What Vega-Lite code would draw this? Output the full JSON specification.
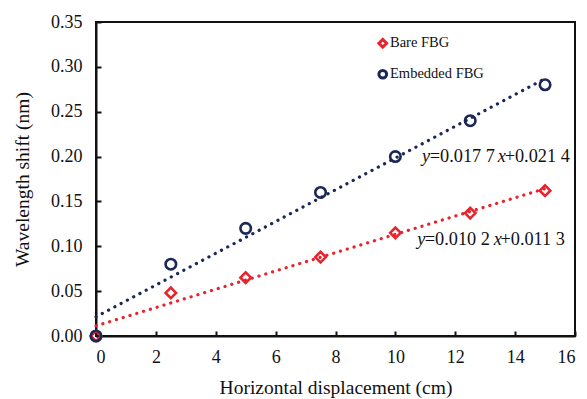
{
  "$schema": "https://vega.github.io/schema/vega-lite/v6.json",
  "width": 479,
  "height": 314,
  "autosize": {"type": "none"},
  "padding": {"left": 96, "top": 22, "right": 12, "bottom": 63},
  "background": "white",
  "config": {
    "font": "Liberation Serif",
    "view": {"stroke": "#111", "strokeWidth": 2},
    "axis": {
      "domainColor": "#111",
      "domainWidth": 2,
      "tickColor": "#111",
      "tickWidth": 2,
      "tickSize": -5,
      "grid": false,
      "labelFont": "Liberation Serif",
      "labelFontSize": 18,
      "labelColor": "#111",
      "titleFont": "Liberation Serif",
      "titleFontSize": 19.5,
      "titleFontWeight": "normal",
      "titleColor": "#111"
    },
    "legend": {
      "labelFont": "Liberation Serif",
      "labelFontSize": 14.5,
      "labelColor": "#111"
    }
  },
  "datasets": {
    "points": [
      {"series": "Bare FBG", "x": 0, "y": 0},
      {"series": "Bare FBG", "x": 2.5, "y": 0.048},
      {"series": "Bare FBG", "x": 5, "y": 0.065},
      {"series": "Bare FBG", "x": 7.5, "y": 0.088},
      {"series": "Bare FBG", "x": 10, "y": 0.115},
      {"series": "Bare FBG", "x": 12.5, "y": 0.137},
      {"series": "Bare FBG", "x": 15, "y": 0.162},
      {"series": "Embedded FBG", "x": 0, "y": 0},
      {"series": "Embedded FBG", "x": 2.5, "y": 0.08},
      {"series": "Embedded FBG", "x": 5, "y": 0.12},
      {"series": "Embedded FBG", "x": 7.5, "y": 0.16},
      {"series": "Embedded FBG", "x": 10, "y": 0.2},
      {"series": "Embedded FBG", "x": 12.5, "y": 0.24},
      {"series": "Embedded FBG", "x": 15, "y": 0.28}
    ],
    "fits": [
      {"series": "Bare FBG", "x": 0, "y": 0.0113},
      {"series": "Bare FBG", "x": 15, "y": 0.1643},
      {"series": "Embedded FBG", "x": 0, "y": 0.0214},
      {"series": "Embedded FBG", "x": 15, "y": 0.2869}
    ],
    "eqs": [
      {"kind": "var", "text": "y", "x": 10.89, "y": 0.194},
      {"kind": "num", "text": "=0.017 7", "x": 11.15, "y": 0.194},
      {"kind": "var", "text": "x", "x": 13.42, "y": 0.194},
      {"kind": "num", "text": "+0.021 4", "x": 13.65, "y": 0.194},
      {"kind": "var", "text": "y", "x": 10.73, "y": 0.101},
      {"kind": "num", "text": "=0.010 2", "x": 10.98, "y": 0.101},
      {"kind": "var", "text": "x", "x": 13.29, "y": 0.101},
      {"kind": "num", "text": "+0.011 3", "x": 13.51, "y": 0.101}
    ]
  },
  "encoding": {
    "x": {
      "field": "x", "type": "quantitative",
      "scale": {"domain": [0, 16], "nice": false, "zero": false},
      "axis": {"values": [0, 2, 4, 6, 8, 10, 12, 14, 16], "title": "Horizontal displacement (cm)", "labelPadding": 17, "titlePadding": 12}
    },
    "y": {
      "field": "y", "type": "quantitative",
      "scale": {"domain": [0, 0.35], "nice": false, "zero": false},
      "axis": {"values": [0, 0.05, 0.1, 0.15, 0.2, 0.25, 0.3, 0.35], "format": ".2f", "title": "Wavelength shift (nm)", "labelPadding": 19, "titlePadding": 18}
    }
  },
  "layer": [
    {
      "data": {"name": "fits"},
      "transform": [{"filter": "datum.series == 'Bare FBG'"}],
      "mark": {"type": "line", "strokeDash": [0.1, 7], "strokeCap": "round", "strokeWidth": 3.2, "color": "#e8232b"},
      "encoding": {}
    },
    {
      "data": {"name": "fits"},
      "transform": [{"filter": "datum.series == 'Embedded FBG'"}],
      "mark": {"type": "line", "strokeDash": [0.1, 7], "strokeCap": "round", "strokeWidth": 3.2, "color": "#1b2857"},
      "encoding": {}
    },
    {
      "data": {"name": "points"},
      "mark": {"type": "point", "filled": false, "strokeWidth": 2.6, "opacity": 1},
      "encoding": {
        "color": {"field": "series", "type": "nominal", "scale": {"domain": ["Bare FBG", "Embedded FBG"], "range": ["#e8232b", "#1b2857"]},
          "legend": {"title": null, "orient": "none", "legendX": 279.5, "legendY": 14, "symbolSize": 60, "symbolStrokeWidth": 3, "rowPadding": 10, "labelOffset": 0}},
        "shape": {"field": "series", "type": "nominal", "scale": {"domain": ["Bare FBG", "Embedded FBG"], "range": ["diamond", "circle"]}},
        "size": {"value": 110}
      }
    },
    {
      "data": {"name": "eqs"},
      "transform": [{"filter": "datum.kind == 'var'"}],
      "mark": {"type": "text", "align": "left", "baseline": "alphabetic", "fontSize": 18.3, "fontStyle": "italic", "font": "Liberation Serif", "color": "#111"},
      "encoding": {"text": {"field": "text"}}
    },
    {
      "data": {"name": "eqs"},
      "transform": [{"filter": "datum.kind == 'num'"}],
      "mark": {"type": "text", "align": "left", "baseline": "alphabetic", "fontSize": 18.3, "font": "Liberation Serif", "color": "#111"},
      "encoding": {"text": {"field": "text"}}
    }
  ]
}
